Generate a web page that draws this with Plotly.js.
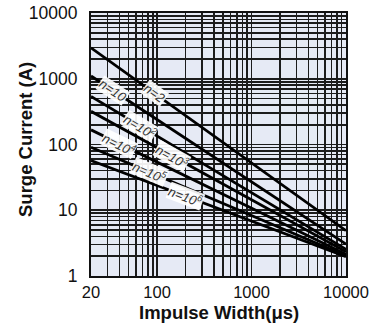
<!DOCTYPE html>
<html>
<head>
<meta charset="utf-8">
<script src="https://cdn.plot.ly/plotly-3.0.1.min.js"></script>
<style>html,body{margin:0;padding:0;background:#fff;}</style>
</head>
<body>
<div id="chart" style="width:372px;height:328px;"></div>
<script>
// Data
const xEnds = [20, 10000];                       // impulse width, µs
const seriesNames = ["n=2", "n=10", "n=10<sup>2</sup>", "n=10<sup>3</sup>", "n=10<sup>4</sup>", "n=10<sup>5</sup>", "n=10<sup>6</sup>"];
const yStart = [2950, 1100, 540, 320, 167, 91, 57];   // surge current at 20 µs
const yEnd   = [4.9, 3.05, 2.55, 2.33, 2.14, 2.03, 1.96]; // surge current at 10000 µs
const labelX = [95, 34, 66, 144, 40, 84, 198];        // where each n label sits (µs)
const xTickVals = [20, 100, 1000, 10000];
const yTickVals = [1, 10, 100, 1000, 10000];
const xTitle = '<b>Impulse Width(μs)</b>';
const yTitle = '<b>Surge Current (A)</b>';

const W = 372, H = 328;
const margin = {l: 91, r: 26, t: 13, b: 52};
const plotW = W - margin.l - margin.r, plotH = H - margin.t - margin.b;
const xr = [Math.log10(20), Math.log10(10000)];
const yr = [0, 4];
const pxX = plotW / (xr[1] - xr[0]);
const pxY = plotH / (yr[1] - yr[0]);

function minorVals(lo, hi) {
  const v = [];
  for (let d = lo; d < hi; d++) for (let k = 2; k <= 9; k++) v.push(k * Math.pow(10, d));
  return v;
}

const traces = seriesNames.map((nm, i) => ({
  type: 'scatter', mode: 'lines', name: nm,
  x: xEnds, y: [yStart[i], yEnd[i]],
  line: {color: '#000', width: 2.8},
  hoverinfo: 'skip', showlegend: false
}));

const annotations = seriesNames.map((nm, i) => {
  const lx0 = Math.log10(xEnds[0]), lx1 = Math.log10(xEnds[1]);
  const ly0 = Math.log10(yStart[i]), ly1 = Math.log10(yEnd[i]);
  const lx = Math.log10(labelX[i]);
  const ly = ly0 + (ly1 - ly0) * (lx - lx0) / (lx1 - lx0);
  const slope = (ly0 - ly1) / (lx1 - lx0) * pxY / pxX;
  const ang = Math.atan(slope) * 180 / Math.PI;
  return {
    x: lx, y: ly, xref: 'x', yref: 'y', text: nm, showarrow: false,
    textangle: ang, bgcolor: 'rgba(255,255,255,0.92)', borderpad: 0,
    font: {family: 'Liberation Sans Narrow, Liberation Sans, Arial', size: 13, color: '#333', style: 'italic'}
  };
});

// axis titles placed as paper annotations
annotations.push({
  xref: 'paper', yref: 'paper', x: 0.5, y: -(312 - (H - margin.b)) / plotH,
  xanchor: 'center', yanchor: 'middle', showarrow: false, text: xTitle,
  font: {size: 18.5, color: '#111'}
});
annotations.push({
  xref: 'paper', yref: 'paper', x: (25 - margin.l) / plotW, y: 0.5 + (144.5 - 140) / plotH,
  xanchor: 'center', yanchor: 'middle', showarrow: false, text: yTitle, textangle: -90,
  font: {size: 18.5, color: '#111'}
});

const gridCol = '#1c1c1c';
const layout = {
  width: W, height: H, margin: margin,
  paper_bgcolor: '#fff', plot_bgcolor: '#e6eaf5',
  showlegend: false,
  font: {family: 'Liberation Sans, Arial, sans-serif', color: '#111'},
  xaxis: {
    type: 'log', range: xr, tickvals: xTickVals, ticktext: xTickVals.map(String),
    showgrid: true, gridcolor: gridCol, gridwidth: 1.6,
    ticks: '', ticklabelstandoff: 0, tickfont: {size: 16.5, color: '#111'},
    showline: true, linecolor: '#111', linewidth: 2, mirror: true, zeroline: false,
    minor: {tickvals: minorVals(1, 4).filter(v => v > 20), showgrid: true, gridcolor: gridCol, gridwidth: 1.6, ticks: ''}
  },
  yaxis: {
    type: 'log', range: yr, tickvals: yTickVals, ticktext: yTickVals.map(String),
    showgrid: true, gridcolor: gridCol, gridwidth: 1.6,
    ticks: '', ticklabelstandoff: 8, tickfont: {size: 17.5, color: '#111'},
    showline: true, linecolor: '#111', linewidth: 2, mirror: true, zeroline: false,
    minor: {tickvals: minorVals(0, 4), showgrid: true, gridcolor: gridCol, gridwidth: 1.6, ticks: ''}
  },
  annotations: annotations
};

Plotly.newPlot('chart', traces, layout, {staticPlot: true, displayModeBar: false});
</script>
</body>
</html>
